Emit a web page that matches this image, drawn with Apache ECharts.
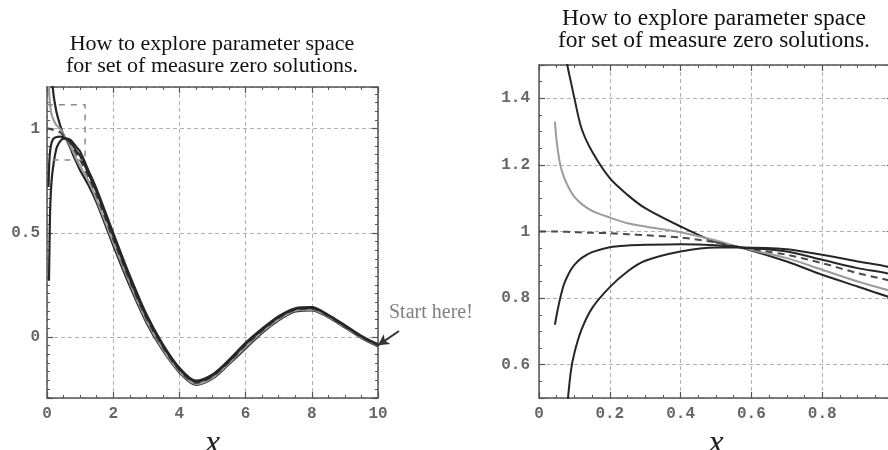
<!DOCTYPE html>
<html>
<head>
<meta charset="utf-8">
<script src="https://cdn.jsdelivr.net/npm/echarts@6/dist/echarts.min.js"></script>
<style>
  html, body { margin: 0; padding: 0; background: #fff; }
  #chart { width: 888px; height: 450px; }
</style>
</head>
<body>
<div id="chart"></div>
<script>
// Sample abscissae shared by every solution curve
const xs = [0, 0.045, 0.05, 0.06, 0.07, 0.08, 0.09, 0.1, 0.12, 0.15,
            0.2, 0.25, 0.3, 0.4, 0.5, 0.57, 0.7, 0.8, 0.9, 1.0,
            1.25, 1.5, 2, 2.5, 3, 3.5, 4, 4.5, 5, 5.5,
            6, 6.5, 7, 7.5, 8, 8.5, 9, 9.5, 10];

// Five trial solutions (null = curve not defined there)
const curveA = [null, null, null, 1.68, 1.58, 1.5, 1.45, 1.4, 1.31, 1.24,
                1.16, 1.11, 1.07, 1.015, 0.968, 0.952, 0.91, 0.87, 0.835, 0.80,
                0.73, 0.645, 0.44, 0.245, 0.07, -0.065, -0.17, -0.23, -0.2, -0.13,
                -0.055, 0.02, 0.08, 0.122, 0.128, 0.095, 0.045, -0.005, -0.045];
const curveB = [null, 1.33, 1.27, 1.2, 1.165, 1.14, 1.12, 1.104, 1.083, 1.062,
                1.042, 1.025, 1.015, 0.998, 0.973, 0.952, 0.92, 0.885, 0.85, 0.82,
                0.75, 0.66, 0.455, 0.26, 0.08, -0.058, -0.165, -0.226, -0.196, -0.125,
                -0.048, 0.025, 0.085, 0.126, 0.131, 0.098, 0.048, -0.002, -0.042];
const curveC = [1.0, 1.0, 1.0, 1.0, 0.999, 0.999, 0.998, 0.998, 0.997, 0.996,
                0.995, 0.992, 0.989, 0.982, 0.967, 0.952, 0.93, 0.905, 0.875, 0.85,
                0.77, 0.68, 0.47, 0.27, 0.09, -0.05, -0.16, -0.22, -0.19, -0.12,
                -0.04, 0.03, 0.09, 0.13, 0.135, 0.1, 0.05, 0, -0.04];
const curveD = [null, 0.72, 0.75, 0.8, 0.84, 0.865, 0.885, 0.9, 0.92, 0.938,
                0.953, 0.958, 0.96, 0.962, 0.959, 0.952, 0.94, 0.915, 0.89, 0.87,
                0.785, 0.695, 0.485, 0.282, 0.1, -0.042, -0.154, -0.215, -0.185, -0.115,
                -0.034, 0.035, 0.095, 0.134, 0.139, 0.103, 0.053, 0.002, -0.038];
const curveE = [null, null, null, 0.27, 0.38, 0.48, 0.58, 0.635, 0.705, 0.77,
                0.833, 0.88, 0.912, 0.94, 0.952, 0.952, 0.947, 0.93, 0.91, 0.89,
                0.80, 0.71, 0.50, 0.295, 0.11, -0.035, -0.148, -0.21, -0.18, -0.11,
                -0.028, 0.04, 0.1, 0.138, 0.143, 0.106, 0.056, 0.005, -0.035];

// Region examined more closely (dashed rectangle on the overview)
const zoomBoxX = [-0.15, 1.15];
const zoomBoxY = [0.85, 1.115];

const titleText = 'How to explore parameter space\nfor set of measure zero solutions.';

function pairs(ys) {
  return xs.map((x, i) => [x, ys[i]]).filter(p => p[1] !== null);
}

const curves = [
  { data: curveA, color: '#262626', type: 'solid' },
  { data: curveB, color: '#9c9c9c', type: 'solid' },
  { data: curveC, color: '#4a4a4a', type: [7, 5] },
  { data: curveD, color: '#262626', type: 'solid' },
  { data: curveE, color: '#262626', type: 'solid' }
];

const frameColor = '#555';
const labelFont = { fontFamily: '"Liberation Mono", monospace', fontWeight: 'bold', fontSize: 16, color: '#666' };
const gridLine = { show: true, lineStyle: { color: '#b0b0b0', type: [4, 3], width: 1 } };

function fmt(v) {
  if (Math.abs(v) < 1e-9) return '0';
  if (Math.abs(v - Math.round(v)) < 1e-9) return String(Math.round(v));
  return String(+v.toFixed(2));
}

function valueAxis(o) {
  return Object.assign({
    type: 'value',
    axisLine: { show: true, onZero: false, lineStyle: { color: frameColor, width: 1.5 } },
    axisTick: { show: true, inside: true, length: 6, lineStyle: { color: frameColor, width: 1.2 } },
    minorTick: { show: true, splitNumber: 4, length: 3, lineStyle: { color: frameColor, width: 1 } },
    axisLabel: Object.assign({ show: true, formatter: fmt, showMinLabel: false, showMaxLabel: false }, labelFont),
    splitLine: { show: false },
    minorSplitLine: { show: false }
  }, o);
}

function mirror(o) {
  return valueAxis(Object.assign({ axisLabel: { show: false } }, o));
}

const xName = {
  nameLocation: 'middle',
  nameGap: 27,
  nameTextStyle: { fontFamily: '"Liberation Serif", serif', fontStyle: 'italic', fontSize: 34, color: '#222' }
};

const series = [];
curves.forEach(c => {
  [[0, 0], [2, 2]].forEach(([xi, yi]) => {
    series.push({
      type: 'line', xAxisIndex: xi, yAxisIndex: yi,
      data: pairs(c.data), showSymbol: false, smooth: 0.3, clip: true,
      lineStyle: { color: c.color, width: xi === 0 ? 2.2 : 2, type: c.type },
      silent: true
    });
  });
});

// dashed rectangle + "Start here!" arrow on the overview
series.push({
  type: 'line', xAxisIndex: 0, yAxisIndex: 0, clip: false, silent: true,
  showSymbol: false,
  data: [[zoomBoxX[0], zoomBoxY[0]], [zoomBoxX[0], zoomBoxY[1]], [zoomBoxX[1], zoomBoxY[1]],
         [zoomBoxX[1], zoomBoxY[0]], [zoomBoxX[0], zoomBoxY[0]]],
  lineStyle: { color: '#8a8a8a', width: 1.5, type: [6, 6] },
  markLine: {
    silent: true,
    symbol: ['arrow', 'none'],
    symbolSize: [9, 11],
    label: { show: false },
    lineStyle: { color: '#333', width: 2, type: 'solid' },
    data: [[
      { coord: [xs[xs.length - 1], curveC[curveC.length - 1]] },
      { x: 399, y: 331 }
    ]]
  }
});

const option = {
  animation: false,
  backgroundColor: '#fff',
  grid: [
    { left: 47, top: 87, width: 331, height: 311, outerBoundsMode: 'none', containLabel: false },
    { left: 539, top: 65, width: 354, height: 333, outerBoundsMode: 'none', containLabel: false }
  ],
  xAxis: [
    valueAxis(Object.assign({ gridIndex: 0, min: 0, max: 10, interval: 2, position: 'bottom',
      splitLine: gridLine, name: 'x' }, xName, { axisLabel: Object.assign({ formatter: fmt, margin: 8 }, labelFont) })),
    mirror({ gridIndex: 0, min: 0, max: 10, interval: 2, position: 'top' }),
    valueAxis(Object.assign({ gridIndex: 1, min: 0, max: 1, interval: 0.2, position: 'bottom',
      splitLine: gridLine, name: 'x' }, xName, { axisLabel: Object.assign({ formatter: fmt, margin: 8 }, labelFont) })),
    mirror({ gridIndex: 1, min: 0, max: 1, interval: 0.2, position: 'top' })
  ],
  yAxis: [
    valueAxis({ gridIndex: 0, min: -0.293, max: 1.2, splitNumber: 3, position: 'left',
      splitLine: gridLine, minorTick: { show: true, splitNumber: 12, length: 3, lineStyle: { color: frameColor, width: 1 } },
      axisLabel: Object.assign({ formatter: fmt, margin: 7, showMinLabel: false, showMaxLabel: false }, labelFont) }),
    mirror({ gridIndex: 0, min: -0.293, max: 1.2, splitNumber: 3, position: 'right',
      minorTick: { show: true, splitNumber: 12, length: 3, lineStyle: { color: frameColor, width: 1 } } }),
    valueAxis({ gridIndex: 1, min: 0.5, max: 1.5, splitNumber: 5, position: 'left',
      splitLine: gridLine,
      axisLabel: Object.assign({ formatter: fmt, margin: 9, showMinLabel: false, showMaxLabel: false }, labelFont) }),
    mirror({ gridIndex: 1, min: 0.5, max: 1.5, splitNumber: 5, position: 'right' })
  ],
  graphic: [
    { type: 'text', x: 212, y: 33, silent: true,
      style: { text: titleText, font: '22px "Liberation Serif", serif', fill: '#111',
               align: 'center', verticalAlign: 'top', lineHeight: 22 } },
    { type: 'text', x: 714, y: 8, silent: true,
      style: { text: titleText, font: '23.5px "Liberation Serif", serif', fill: '#111',
               align: 'center', verticalAlign: 'top', lineHeight: 22 } },
    { type: 'text', x: 389, y: 313, silent: true,
      style: { text: 'Start here!', font: '20px "Liberation Serif", serif', fill: '#808080',
               align: 'left', verticalAlign: 'middle' } }
  ],
  series: series
};

const chart = echarts.init(document.getElementById('chart'), null, { renderer: 'canvas' });
chart.setOption(option);
</script>
</body>
</html>
